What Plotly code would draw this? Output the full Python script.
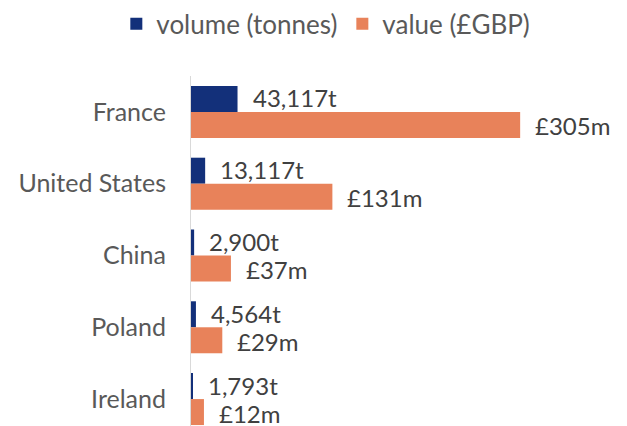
import plotly.graph_objects as go

countries = ["France", "United States", "China", "Poland", "Ireland"]
volume_tonnes = [43117, 13117, 2900, 4564, 1793]
value_gbp_m = [305, 131, 37, 29, 12]
volume_labels = ["43,117t", "13,117t", "2,900t", "4,564t", "1,793t"]
value_labels = ["£305m", "£131m", "£37m", "£29m", "£12m"]

NAVY = "#13307A"
ORANGE = "#E8825A"
FONT = "Lato"

volume_k = [v / 1000 for v in volume_tonnes]

fig = go.Figure()
fig.add_trace(go.Bar(
    y=countries, x=volume_k, orientation="h", name="volume (tonnes)",
    marker=dict(color=NAVY, line=dict(width=0)),
))
fig.add_trace(go.Bar(
    y=countries, x=value_gbp_m, orientation="h", name="value (£GBP)",
    marker=dict(color=ORANGE, line=dict(width=0)),
))

annotations = []
for c, v, t in zip(countries, volume_k, volume_labels):
    annotations.append(dict(x=v, y=c, text=t, xanchor="left", yanchor="middle",
                            xshift=13, yshift=14, showarrow=False,
                            font=dict(family=FONT, size=24, color="#404040")))
for c, v, t in zip(countries, value_gbp_m, value_labels):
    annotations.append(dict(x=v, y=c, text=t, xanchor="left", yanchor="middle",
                            xshift=13, yshift=-14, showarrow=False,
                            font=dict(family=FONT, size=24, color="#404040")))

# page body has an 8px margin; figure is sized so it ends at the window edge
fig.update_layout(
    width=619, height=418,
    margin=dict(l=183, r=0, t=68, b=0),
    paper_bgcolor="white", plot_bgcolor="white",
    barmode="group", bargap=0.276, bargroupgap=0,
    font=dict(family=FONT, size=24, color="#595959"),
    showlegend=True,
    legend=dict(orientation="h", x=0.175, xanchor="left", xref="container",
                y=0.962, yref="container", yanchor="middle",
                font=dict(family=FONT, size=26, color="#595959"),
                traceorder="normal", itemwidth=30),
    xaxis=dict(range=[0, 404], visible=False, showgrid=False, zeroline=False),
    yaxis=dict(categoryorder="array", categoryarray=countries,
               range=[4.375, -0.5], showgrid=False, zeroline=False,
               showline=True, linecolor="#D9D9D9", linewidth=1,
               ticks="", ticklabelstandoff=19,
               tickfont=dict(family=FONT, size=25, color="#595959")),
    annotations=annotations,
)

fig.write_html("out.html")
